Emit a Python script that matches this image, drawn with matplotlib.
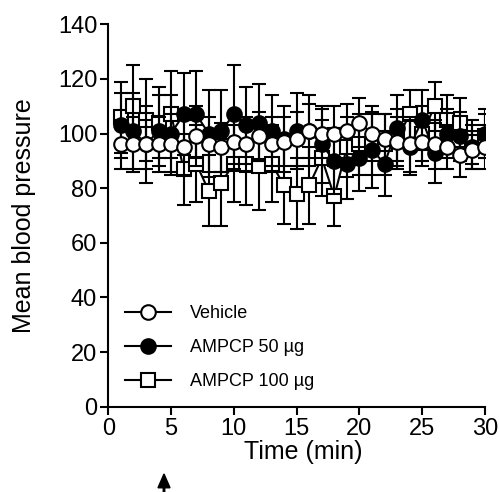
import matplotlib
matplotlib.use("Agg")
import matplotlib.pyplot as plt
from matplotlib.lines import Line2D
import numpy as np

plt.rcParams['font.family'] = ['Liberation Sans', 'DejaVu Sans']

time = list(range(1, 31))
vehicle = [96, 96, 96, 96, 96, 95, 99, 96, 95, 97, 96, 99, 96, 97, 98, 101, 100, 100, 101, 104,
           100, 98, 97, 96, 97, 96, 95, 92, 94, 95]
vehicle_err = [9, 10, 9, 10, 11, 10, 11, 10, 9, 10, 10, 9, 10, 9, 10, 10, 9, 10, 10, 9,
               10, 9, 9, 10, 9, 9, 8, 8, 7, 8]
ampcp50 = [103, 101, 96, 101, 100, 107, 107, 100, 101, 107, 103, 104, 101, 98, 101, 101, 96, 90, 89, 91,
           94, 89, 102, 95, 105, 93, 100, 99, 95, 100]
ampcp50_err = [12, 14, 14, 13, 14, 15, 16, 16, 15, 18, 14, 14, 13, 12, 14, 13, 14, 12, 13, 12,
               14, 12, 12, 10, 11, 11, 9, 9, 8, 9]
ampcp100 = [106, 110, 105, 104, 107, 87, 89, 79, 82, 89, 89, 88, 89, 81, 78, 81, 91, 77, 95, 96,
            96, 96, 98, 107, 100, 110, 105, 104, 97, 99]
ampcp100_err = [13, 15, 15, 13, 16, 13, 14, 13, 16, 14, 15, 16, 14, 14, 13, 14, 14, 11, 11, 11,
                11, 11, 11, 9, 10, 9, 9, 9, 8, 8]

fig = plt.figure(figsize=(5.0, 4.92), dpi=100)
ax = fig.add_axes([0.2166, 0.1734, 0.7534, 0.7772])

common = dict(color='black', ecolor='black', elinewidth=1.5, capsize=5, capthick=1.5,
              linewidth=1.5, markersize=10.5, markeredgewidth=1.5, markeredgecolor='black')

ax.errorbar(time, ampcp100, yerr=ampcp100_err, marker='s', markerfacecolor='white',
            zorder=2, **common)
ax.errorbar(time, ampcp50, yerr=ampcp50_err, marker='o', markerfacecolor='black',
            zorder=3, **common)
ax.errorbar(time, vehicle, yerr=vehicle_err, marker='o', markerfacecolor='white',
            zorder=4, **common)

ax.set_xlim(0, 30)
ax.set_ylim(0, 140)
ax.set_xticks(range(0, 31, 5))
ax.set_yticks(range(0, 141, 20))
ax.spines['top'].set_visible(False)
ax.spines['right'].set_visible(False)
ax.spines['left'].set_linewidth(1.5)
ax.spines['bottom'].set_linewidth(1.5)
ax.tick_params(direction='out', length=6, width=1.5, labelsize=17, pad=2)
ax.set_xlabel('Time (min)', fontsize=18)
ax.xaxis.set_label_coords(0.517, -0.086)
ax.set_ylabel('Mean blood pressure', fontsize=18, labelpad=16)

lh = dict(color='black', linewidth=1.5, markersize=10.5, markeredgewidth=1.5,
          markeredgecolor='black')
handles = [Line2D([], [], marker='o', markerfacecolor='white', **lh),
           Line2D([], [], marker='o', markerfacecolor='black', **lh),
           Line2D([], [], marker='s', markerfacecolor='white', **lh)]
labels = ['Vehicle', 'AMPCP 50 µg', 'AMPCP 100 µg']
leg = ax.legend(handles, labels, loc='lower left', bbox_to_anchor=(0.0, 0.0),
                frameon=False, fontsize=13, handlelength=2.6, labelspacing=0.95,
                handletextpad=1.0)

fig.patches.append(matplotlib.patches.FancyArrow(
    164 / 500, 0.0, 0, 18 / 492, width=0.003, head_width=0.024, head_length=0.028,
    length_includes_head=True, color='black', transform=fig.transFigure, figure=fig))

fig.savefig('out.png', dpi=100)
